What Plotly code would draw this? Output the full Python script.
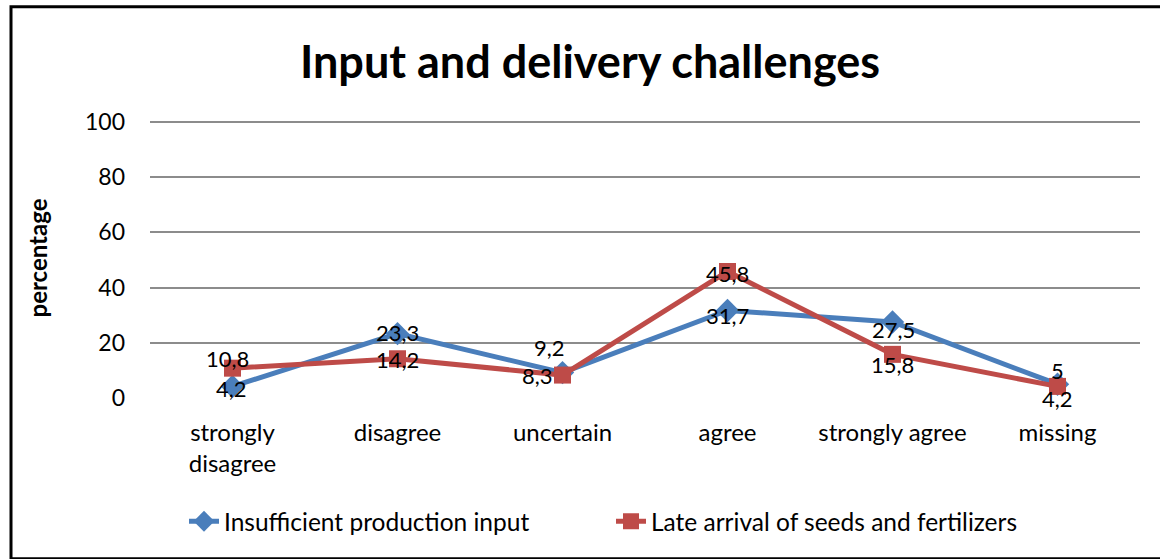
import plotly.graph_objects as go

categories = ["strongly<br>disagree", "disagree", "uncertain", "agree", "strongly agree", "missing"]
insufficient_input = [4.2, 23.3, 9.2, 31.7, 27.5, 5]
late_arrival = [10.8, 14.2, 8.3, 45.8, 15.8, 4.2]
y_ticks = [0, 20, 40, 60, 80, 100]

# label offsets (px): (xshift, yshift)
blue_label_shift = [(-1, -2), (0, 1), (-13, 25), (0, -5), (1, -7), (0, 14)]
red_label_shift = [(-5, 10), (0, -1), (-25, 0), (0, -2), (0, -10), (0, -12)]

BLUE = "#4A7EBB"
RED = "#BE4B48"
FONT = "Lato"

fig = go.Figure()
fig.add_trace(go.Scatter(
    x=categories, y=insufficient_input, mode="lines+markers",
    name="Insufficient production input",
    line=dict(color=BLUE, width=5),
    marker=dict(symbol="diamond", size=18, color=BLUE),
))
fig.add_trace(go.Scatter(
    x=categories, y=late_arrival, mode="lines+markers",
    name="Late arrival of seeds and fertilizers",
    line=dict(color=RED, width=5),
    marker=dict(symbol="square", size=17, color=RED),
))

def fmt(v):
    return f"{v:g}".replace(".", ",")

for vals, shifts in ((insufficient_input, blue_label_shift), (late_arrival, red_label_shift)):
    for c, v, (dx, dy) in zip(categories, vals, shifts):
        fig.add_annotation(x=c, y=v, text=fmt(v), showarrow=False,
                           xshift=dx, yshift=dy,
                           font=dict(family=FONT, size=22, color="black"))

# y-axis title
fig.add_annotation(xref="paper", yref="paper", x=(37 - 150) / 990, y=0.5,
                   xanchor="center", yanchor="middle",
                   text="<b>percentage</b>", textangle=-90, showarrow=False,
                   font=dict(family=FONT, size=24, color="black"))

# outer border
fig.add_shape(type="rect", xref="paper", yref="paper",
              x0=(11 - 150) / 990, x1=(1175 - 150) / 990,
              y0=(398 - 557) / 276, y1=(398 - 11) / 276,
              line=dict(color="black", width=3), fillcolor="rgba(0,0,0,0)")

fig.update_layout(
    width=1160, height=559,
    margin=dict(l=150, r=20, t=119, b=161),
    paper_bgcolor="white", plot_bgcolor="white",
    font=dict(family=FONT, size=22, color="black"),
    title=dict(text="<b>Input and delivery challenges</b>",
               xref="container", yref="container",
               x=590 / 1160, y=1 - 62 / 559, xanchor="center", yanchor="middle",
               font=dict(family=FONT, size=45, color="black")),
    showlegend=True,
    legend=dict(orientation="h", x=(184 - 150) / 990, y=(398 - 520) / 276,
                xanchor="left", yanchor="middle",
                font=dict(family=FONT, size=24.5, color="black"),
                entrywidth=382, entrywidthmode="pixels",
                bgcolor="rgba(0,0,0,0)"),
    xaxis=dict(range=[-0.5, 5.5], showgrid=False, showline=False, zeroline=False,
               ticks="", ticklabelstandoff=18,
               tickfont=dict(family=FONT, size=24, color="black")),
    yaxis=dict(range=[0, 101], tickvals=y_ticks, showgrid=True,
               gridcolor="#8C8C8C", gridwidth=2, zeroline=False, showline=False,
               ticks="", ticklabelstandoff=24,
               tickfont=dict(family=FONT, size=23, color="black")),
)

fig.write_html("out.html", config={"displayModeBar": False},
               post_script="document.body.style.margin='0px';")
